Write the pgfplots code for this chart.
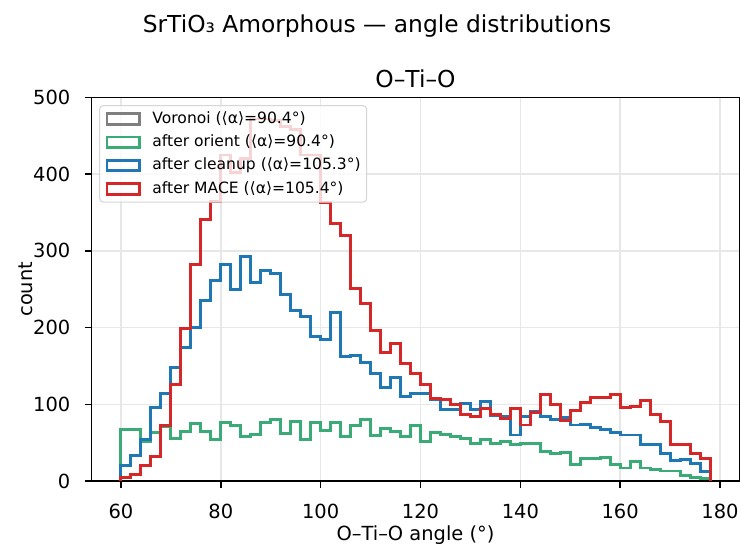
\documentclass[border=0pt]{standalone}
\usepackage{fontspec}
\setmainfont{DejaVu Sans}
\usepackage{pgfplots}
\usepackage{pgfplotstable}
\pgfplotsset{compat=1.18}
\definecolor{cgray}{RGB}{127,127,127}
\definecolor{cgreen}{RGB}{58,170,118}
\definecolor{cblue}{RGB}{31,119,180}
\definecolor{cred}{RGB}{214,39,40}
\definecolor{cgrid}{RGB}{231,231,231}
\definecolor{cframe}{RGB}{214,214,214}

% left bin edge, counts (bin width 2 degrees); first/last rows close the step outline
\pgfplotstableread{
bin voronoi orient cleanup mace
60  0  0   0   0
60  67 67  20  4
62  67 67  33  8
64  51 51  54  20
66  63 63  96  32
68  71 71  114 72
70  55 55  148 126
72  65 65  174 199
74  75 75  200 282
76  65 65  235 341
78  54 54  261 365
80  76 76  282 425
82  72 72  250 402
84  58 58  293 421
86  61 61  259 472
88  76 76  274 472
90  80 80  270 470
92  62 62  243 462
94  78 78  222 458
96  54 54  215 425
98  76 76  188 425
100 66 66  185 363
102 76 76  220 336
104 58 58  162 320
106 72 72  164 251
108 80 80  155 231
110 59 59  140 196
112 69 69  122 167
114 64 64  135 179
116 58 58  110 153
118 72 72  114 140
120 52 52  114 126
122 63 63  106 107
124 61 61  93  106
126 58 58  93  100
128 56 56  101 87
130 49 49  93  84
132 54 54  104 94
134 49 49  86  87
136 51 51  84  81
138 47 47  60  94
140 49 49  84  73
142 49 49  91  89
144 38 38  84  113
146 36 36  80  100
148 37 37  83  79
150 22 22  73  92
152 29 29  74  102
154 29 29  70  109
156 31 31  67  109
158 22 22  63  113
160 17 17  60  96
162 25 25  60  97
164 17 17  47  105
166 15 15  47  87
168 13 13  36  78
170 13 13  27  47
172 7  7   28  47
174 5  5   23  36
176 3  3   12  29
178 3  3   12  29
178 0  0   0   0
}\hist

\begin{document}
\begin{tikzpicture}
\useasboundingbox (0,0) rectangle (361.92pt,265.92pt);
\begin{axis}[
  at={(43.92pt,35.04pt)}, anchor=south west,
  scale only axis, width=311.04pt, height=184.08pt,
  xmin=54.1, xmax=183.9, ymin=0, ymax=500,
  xtick={60,80,...,180}, ytick={0,100,...,500},
  xtick pos=bottom, ytick pos=left,
  tick align=outside, major tick length=3.26pt,
  every tick/.style={black, line width=0.75pt},
  axis line style={black, line width=0.75pt},
  grid=major, major grid style={cgrid, line width=0.75pt},
  /pgf/number format/assume math mode=true,
  ticklabel style={font=\fontsize{9.33}{11}\selectfont},
  xticklabel style={anchor=north, inner sep=0pt, yshift=-7.5pt},
  yticklabel style={anchor=east, inner sep=0pt, xshift=-6.7pt},
  legend cell align=left,
  legend image code/.code={\draw[#1, sharp corners, line width=1.4pt] (0pt,-2.5pt) rectangle (15.8pt,2.5pt);},
  legend style={at={(0.0116,0.9804)}, anchor=north west,
    draw=cframe, line width=0.5pt, fill=white, fill opacity=0.8, draw opacity=1, text opacity=1,
    rounded corners=1.9pt, inner xsep=2.9pt, inner ysep=0.8pt,
    font=\fontsize{7.47}{9}\selectfont, row sep=0pt,
    /tikz/every odd column/.append style={column sep=5.3pt},
    nodes={inner xsep=0pt, inner ysep=1.9pt, text height=5.8pt, text depth=1.6pt}},
]
\addplot[const plot mark left, cgray, line width=1.4pt] table[x=bin, y=voronoi] {\hist};
\addlegendentry{Voronoi (⟨α⟩=90.4°)}
\addplot[const plot mark left, cgreen, line width=1.4pt] table[x=bin, y=orient] {\hist};
\addlegendentry{after orient (⟨α⟩=90.4°)}
\addplot[const plot mark left, cblue, line width=1.4pt] table[x=bin, y=cleanup] {\hist};
\addlegendentry{after cleanup (⟨α⟩=105.3°)}
\addplot[const plot mark left, cred, line width=1.4pt] table[x=bin, y=mace] {\hist};
\addlegendentry{after MACE (⟨α⟩=105.4°)}
\end{axis}
\node[font=\fontsize{11.2}{13}\selectfont, anchor=base] at (180.96pt,250.56pt) {SrTiO₃ Amorphous — angle distributions};
\node[font=\fontsize{11.2}{13}\selectfont, anchor=base] at (199.44pt,224.16pt) {O–Ti–O};
\node[font=\fontsize{9.33}{11}\selectfont, anchor=base] at (199.44pt,6.4pt) {O–Ti–O angle (°)};
\node[font=\fontsize{9.33}{11}\selectfont, rotate=90, anchor=base] at (15.4pt,127.08pt) {count};
\end{tikzpicture}
\end{document}
